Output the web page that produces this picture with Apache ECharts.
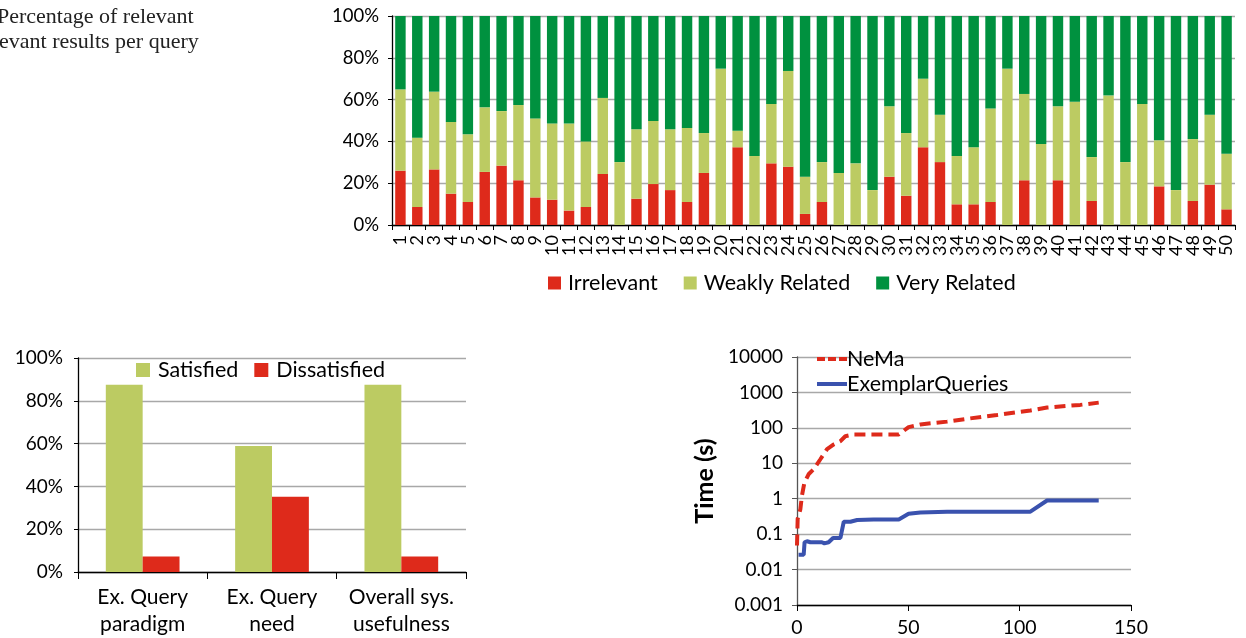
<!DOCTYPE html>
<html>
<head>
<meta charset="utf-8">
<script src="https://cdn.jsdelivr.net/npm/echarts@6/dist/echarts.min.js"></script>
<style>
html,body{margin:0;padding:0;background:#fff;}
#chart{width:1246px;height:638px;}
</style>
</head>
<body>
<div id="chart"></div>
<script>
// ---- Top chart: relevance per query ----
const queryIds = Array.from({length: 50}, (_, i) => String(i + 1));
const irrelevant = [26.0,8.6,26.6,15.0,11.0,25.4,28.4,21.4,13.2,12.1,6.9,8.6,24.4,0,12.6,19.6,16.7,11.0,24.9,0,37.2,0,29.5,27.9,5.3,11.0,0,0,0,23.1,14.0,37.2,30.1,9.9,9.9,11.0,0,21.4,0,21.4,0,11.5,0,0,0,18.5,0,11.5,19.3,7.5];
const weaklyRelated = [38.9,33.2,37.2,34.3,32.4,30.9,26.1,36.0,37.8,36.5,41.7,31.4,36.4,30.1,33.2,30.2,29.1,35.4,19.1,74.8,7.9,33.0,28.4,45.8,17.8,19.1,24.9,29.5,16.7,33.7,30.0,32.8,22.7,23.1,27.3,44.7,74.8,41.3,38.8,35.4,59.0,21.0,62.0,30.1,57.9,22.0,16.7,29.6,33.5,26.6];
const veryRelated = [35.1,58.2,36.2,50.7,56.6,43.7,45.5,42.6,49.0,51.4,51.4,60.0,39.2,69.9,54.2,50.2,54.2,53.6,56.0,25.2,54.9,67.0,42.1,26.3,76.9,69.9,75.1,70.5,83.3,43.2,56.0,30.0,47.2,67.0,62.8,44.3,25.2,37.3,61.2,43.2,41.0,67.5,38.0,69.9,42.1,59.5,83.3,58.9,47.2,65.9];
const pctTicks = [0, 20, 40, 60, 80, 100];

// ---- Bottom-left: user satisfaction ----
const surveyCategories = ['Ex. Query\nparadigm', 'Ex. Query\nneed', 'Overall sys.\nusefulness'];
const satisfied = [87.5, 58.9, 87.5];
const dissatisfied = [7.3, 35.2, 7.3];

// ---- Bottom-right: time (s), log scale ----
const nemaX = [0,0.3,1.5,2.2,3.3,5.2,7.5,10.5,13.5,16.5,19.5,21.7,25.4,37.4,45.7,50.1,55.4,67.4,76.3,89.8,104.8,112.3,127.2,135.5];
const nemaY = [0.048,0.27,0.5,1.2,2.8,4.9,6.8,13,25,34,42,58,65,65,65,105,125,150,180,230,310,375,445,515];
const exemplarX = [0.7,3,3.4,4.5,6,11.2,12.3,14.2,16.2,19.5,21,24,27,34.4,45.7,50.1,55.4,67.4,104.8,112.3,135.5];
const exemplarY = [0.026,0.026,0.059,0.063,0.059,0.059,0.055,0.059,0.078,0.078,0.224,0.224,0.25,0.26,0.26,0.375,0.41,0.43,0.43,0.89,0.89];
const timeTicks = [0.001, 0.01, 0.1, 1, 10, 100, 1000, 10000];

const RED = '#DE2A1B', YEL = '#BCCB62', GRN = '#00913F', BLUE = '#3A52AE';
const FONT = 'Lato, "Open Sans", sans-serif';
const GRID_LINE = {show: true, lineStyle: {color: '#a8a8a8', width: 1.3}};
const AX_LINE = {show: true, lineStyle: {color: '#000', width: 1.3}};
const DASH_ICON = 'path://M0,0h8v4h-8z M11,0h8v4h-8z M22,0h8v4h-8z';
const SOLID_ICON = 'path://M0,0h30v4h-30z';

function zip(xs, ys) { return xs.map((x, i) => [x, ys[i]]); }
function logLabel(v) {
  const e = Math.round(Math.log10(v));
  const t = timeTicks.find(k => Math.round(Math.log10(k)) === e);
  return t === undefined ? '' : (e < 0 ? t.toFixed(-e) : String(t));
}

const chart = echarts.init(document.getElementById('chart'), null, {renderer: 'canvas'});
chart.setOption({
  animation: false,
  textStyle: {fontFamily: FONT, color: '#000'},
  graphic: [
    {type: 'text', left: -3, top: 6, style: {text: 'Percentage of relevant', font: '22px "Liberation Serif", serif', fill: '#222'}},
    {type: 'text', left: -1, top: 31, style: {text: 'evant results per query', font: '22px "Liberation Serif", serif', fill: '#222'}}
  ],
  legend: [
    {data: ['Irrelevant', 'Weakly Related', 'Very Related'], left: 543, top: 267, itemWidth: 13, itemHeight: 13, itemGap: 26,
     icon: 'rect', textStyle: {fontSize: 21.5, fontFamily: FONT, color: '#000', padding: [0, 0, 0, 2]}},
    {data: ['Satisfied', 'Dissatisfied'], left: 131, top: 354, itemWidth: 14, itemHeight: 14, itemGap: 16,
     icon: 'rect', textStyle: {fontSize: 21.5, fontFamily: FONT, color: '#000', padding: [0, 0, 0, 3]}},
    {data: [{name: 'NeMa', icon: DASH_ICON}, {name: 'ExemplarQueries', icon: SOLID_ICON}],
     orient: 'vertical', left: 812, top: 343, itemWidth: 30, itemHeight: 4, itemGap: 3,
     textStyle: {fontSize: 21.5, fontFamily: FONT, color: '#000', padding: [0, 0, 0, -5]}}
  ],
  grid: [
    {left: 392, top: 16, width: 843, height: 209},
    {left: 78, top: 358, width: 388, height: 214},
    {left: 797, top: 357, width: 334, height: 250}
  ],
  xAxis: [
    {gridIndex: 0, type: 'category', data: queryIds, axisLine: AX_LINE,
     axisTick: {show: true, length: 5, lineStyle: {color: '#000'}},
     axisLabel: {interval: 0, rotate: 90, fontSize: 18, margin: 10, color: '#000', fontFamily: FONT}},
    {gridIndex: 1, type: 'category', data: surveyCategories, axisLine: AX_LINE,
     axisTick: {show: true, length: 7, lineStyle: {color: '#000'}},
     axisLabel: {interval: 0, fontSize: 21, lineHeight: 27, margin: 12, color: '#000', fontFamily: FONT}},
    {gridIndex: 2, type: 'value', min: 0, max: 150, interval: 50, axisLine: AX_LINE,
     axisTick: {show: true, length: 6, lineStyle: {color: '#000'}},
     splitLine: {show: false},
     axisLabel: {fontSize: 19.5, margin: 13, color: '#000', fontFamily: FONT}}
  ],
  yAxis: [
    {gridIndex: 0, type: 'value', min: pctTicks[0], max: pctTicks[pctTicks.length - 1], interval: 20,
     axisLine: AX_LINE, axisTick: {show: true, length: 4, lineStyle: {color: '#000'}}, splitLine: GRID_LINE,
     axisLabel: {formatter: '{value}%', fontSize: 18.5, margin: 13, color: '#000', fontFamily: FONT}},
    {gridIndex: 1, type: 'value', min: pctTicks[0], max: pctTicks[pctTicks.length - 1], interval: 20,
     axisLine: AX_LINE, axisTick: {show: true, length: 4, lineStyle: {color: '#000'}}, splitLine: GRID_LINE,
     axisLabel: {formatter: '{value}%', fontSize: 19, margin: 15, color: '#000', fontFamily: FONT}},
    {gridIndex: 2, type: 'log', logBase: 10, min: timeTicks[0], max: timeTicks[timeTicks.length - 1],
     axisLine: {show: true, lineStyle: {color: '#555', width: 1.3}},
     axisTick: {show: true, length: 5, lineStyle: {color: '#555'}}, splitLine: GRID_LINE,
     axisLabel: {formatter: logLabel, fontSize: 19, margin: 14, color: '#000', fontFamily: FONT},
     name: 'Time (s)', nameLocation: 'middle', nameRotate: 90, nameGap: 80,
     nameTextStyle: {fontSize: 25, fontWeight: 'bold', fontFamily: FONT, color: '#000'}}
  ],
  series: [
    {name: 'Irrelevant', type: 'bar', stack: 'q', xAxisIndex: 0, yAxisIndex: 0, data: irrelevant, barCategoryGap: '38%', itemStyle: {color: RED}},
    {name: 'Weakly Related', type: 'bar', stack: 'q', xAxisIndex: 0, yAxisIndex: 0, data: weaklyRelated, itemStyle: {color: YEL}},
    {name: 'Very Related', type: 'bar', stack: 'q', xAxisIndex: 0, yAxisIndex: 0, data: veryRelated, itemStyle: {color: GRN}},
    {name: 'Satisfied', type: 'bar', xAxisIndex: 1, yAxisIndex: 1, data: satisfied, barGap: '0%', barCategoryGap: '43%', itemStyle: {color: YEL}},
    {name: 'Dissatisfied', type: 'bar', xAxisIndex: 1, yAxisIndex: 1, data: dissatisfied, barGap: '0%', barCategoryGap: '43%', itemStyle: {color: RED}},
    {name: 'NeMa', type: 'line', xAxisIndex: 2, yAxisIndex: 2, data: zip(nemaX, nemaY), symbol: 'none', smooth: false,
     lineStyle: {color: RED, width: 4, type: [11, 6]}, itemStyle: {color: RED}},
    {name: 'ExemplarQueries', type: 'line', xAxisIndex: 2, yAxisIndex: 2, data: zip(exemplarX, exemplarY), symbol: 'none',
     lineStyle: {color: BLUE, width: 4}, itemStyle: {color: BLUE}}
  ]
});
</script>
</body>
</html>
